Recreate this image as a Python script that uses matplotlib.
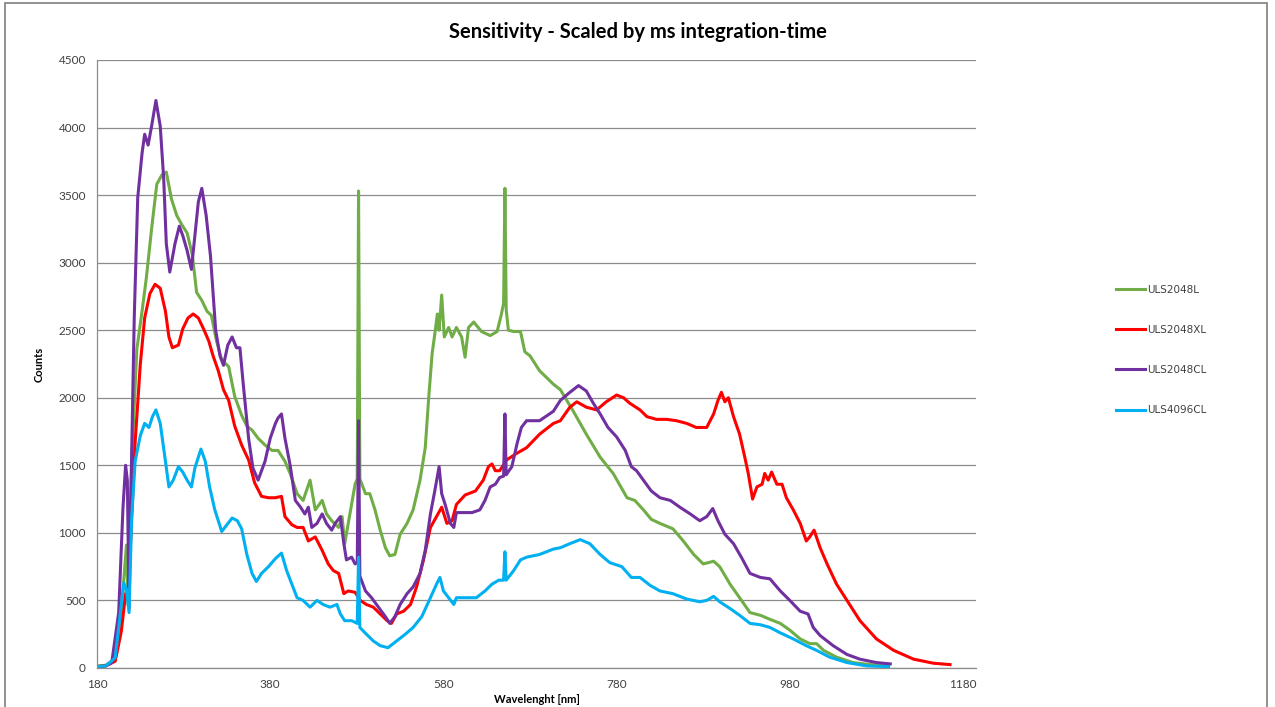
import matplotlib
matplotlib.use('Agg')
import matplotlib.pyplot as plt
from matplotlib.patches import Rectangle

# Sensitivity curves (wavelength nm, counts)
wl_2048L = [180, 190, 197, 203, 208, 212, 214, 216, 220, 226, 232, 237, 243, 249, 255, 260, 266, 272, 278, 284,
            290, 295, 301, 307, 312, 318, 324, 332, 339, 347, 353, 359, 366, 374, 382, 389, 397, 403, 411, 418,
            426, 432, 440, 445, 451, 459, 463, 466, 472, 478, 480.5, 482, 483.5, 490, 495, 501, 507, 513, 518, 524,
            530, 538, 545, 553, 559, 563, 567, 570, 573, 575, 578, 581, 586, 590, 595, 601, 605, 609, 615, 624,
            634, 642, 647, 649.5, 651, 652.5, 655, 661, 669, 674, 680, 691, 707, 715, 730, 745, 761, 776, 792, 801,
            811, 820, 830, 845, 857, 869, 880, 892, 899, 911, 922, 934, 946, 957, 969, 980, 992, 1003, 1011, 1019,
            1034, 1053, 1073, 1094]
counts_2048L = [15, 20, 50, 150, 400, 745, 910, 465, 1530, 2360, 2640, 2890, 3250, 3580, 3650, 3670, 3470, 3350, 3280, 3220,
                3060, 2780, 2720, 2640, 2610, 2420, 2280, 2230, 2010, 1870, 1790, 1760, 1700, 1650, 1610, 1610, 1530, 1440, 1290, 1240,
                1390, 1170, 1240, 1140, 1090, 1040, 1120, 920, 1140, 1360, 1400, 3530, 1400, 1290, 1290, 1170, 1020, 890, 830, 840,
                990, 1070, 1170, 1390, 1630, 2000, 2330, 2470, 2620, 2500, 2760, 2450, 2520, 2450, 2520, 2450, 2300, 2520, 2560, 2490,
                2460, 2490, 2620, 2700, 3550, 2650, 2500, 2490, 2490, 2340, 2310, 2200, 2100, 2060, 1900, 1730, 1560, 1440, 1260, 1240,
                1170, 1100, 1070, 1030, 940, 840, 770, 790, 750, 620, 520, 410, 390, 360, 330, 280, 215, 180, 180, 130,
                80, 40, 25, 15]

wl_2048XL = [180, 190, 201, 208, 213, 216, 220, 224, 230, 235, 241, 247, 253, 259, 263, 267, 274, 279, 285, 291,
             297, 303, 309, 314, 320, 326, 332, 339, 347, 355, 362, 370, 378, 386, 393, 397, 405, 411, 418, 424,
             432, 440, 447, 453, 459, 465, 470, 478, 484, 491, 499, 507, 515, 520, 526, 534, 542, 549, 557, 565,
             572, 578, 584, 590, 595, 605, 617, 626, 632, 636, 640, 645, 653, 665, 676, 691, 707, 715, 726, 734,
             745, 757, 768, 780, 788, 795, 807, 815, 826, 838, 849, 861, 872, 884, 892, 897, 901, 905, 909, 915,
             922, 928, 932, 937, 942, 948, 951, 955, 959, 965, 971, 976, 984, 992, 999, 1003, 1008, 1015, 1023, 1034,
             1046, 1061, 1080, 1100, 1123, 1146, 1165]
counts_2048XL = [10, 15, 50, 270, 550, 520, 1110, 1670, 2250, 2590, 2770, 2840, 2810, 2640, 2450, 2370, 2390, 2510, 2590, 2620,
                 2590, 2510, 2420, 2310, 2200, 2060, 1980, 1790, 1650, 1540, 1370, 1270, 1260, 1260, 1270, 1120, 1060, 1040, 1040, 940,
                 970, 870, 770, 720, 700, 550, 570, 560, 500, 470, 450, 400, 350, 330, 400, 420, 470, 600, 800, 1040,
                 1120, 1190, 1070, 1090, 1210, 1280, 1310, 1390, 1490, 1510, 1460, 1460, 1540, 1590, 1630, 1730, 1810, 1830, 1930, 1970,
                 1930, 1910, 1970, 2020, 2000, 1960, 1910, 1860, 1840, 1840, 1830, 1810, 1780, 1780, 1880, 1980, 2040, 1970, 2000, 1860,
                 1730, 1560, 1440, 1250, 1340, 1360, 1440, 1390, 1450, 1360, 1360, 1260, 1170, 1070, 940, 970, 1020, 890, 770, 620,
                 500, 350, 215, 130, 65, 35, 25]

wl_2048CL = [180, 190, 197, 205, 210, 213, 215, 217, 219, 223, 227, 232, 235, 239, 243, 248, 253, 257, 260, 264,
             270, 275, 279, 284, 289, 293, 297, 301, 306, 311, 317, 322, 326, 331, 336, 341, 345, 349, 355, 360,
             366, 374, 380, 386, 389, 393, 397, 403, 409, 415, 420, 424, 428, 434, 440, 445, 451, 455, 461, 465,
             468, 474, 478, 480.5, 482, 483.5, 490, 497, 505, 513, 518, 524, 530, 538, 545, 553, 559, 565, 570, 575,
             578, 582, 588, 592, 595, 603, 613, 622, 628, 634, 640, 645, 649.5, 651, 652.5, 659, 665, 670, 676, 691,
             707, 715, 726, 736, 745, 753, 761, 770, 780, 790, 797, 803, 811, 820, 830, 842, 853, 865, 876, 884,
             891, 897, 905, 915, 924, 934, 946, 957, 969, 980, 992, 1001, 1007, 1015, 1030, 1046, 1061, 1080, 1096]
counts_2048CL = [10, 15, 40, 410, 1190, 1500, 1390, 440, 1250, 2600, 3480, 3810, 3950, 3870, 4010, 4200, 4010, 3620, 3140, 2930,
                 3140, 3270, 3200, 3090, 2950, 3200, 3450, 3550, 3350, 3050, 2500, 2310, 2240, 2390, 2450, 2370, 2370, 2090, 1700, 1480,
                 1390, 1530, 1700, 1810, 1850, 1880, 1700, 1500, 1240, 1190, 1140, 1190, 1040, 1070, 1140, 1070, 1020, 1070, 1120, 920,
                 800, 820, 770, 780, 1830, 680, 570, 520, 450, 380, 330, 380, 470, 550, 600, 700, 870, 1140, 1310, 1490,
                 1290, 1210, 1070, 1040, 1150, 1150, 1150, 1170, 1240, 1340, 1360, 1410, 1420, 1880, 1430, 1490, 1660, 1780, 1830, 1830,
                 1900, 1980, 2040, 2090, 2050, 1960, 1880, 1780, 1710, 1610, 1490, 1460, 1390, 1310, 1260, 1240, 1190, 1140, 1090, 1120,
                 1180, 1090, 990, 920, 820, 700, 670, 660, 570, 500, 420, 400, 300, 240, 165, 100, 65, 40, 30]

wl_4096CL = [180, 190, 201, 208, 211, 214, 217, 220, 224, 230, 235, 240, 244, 248, 253, 259, 263, 268, 274, 279,
             284, 289, 293, 300, 305, 310, 316, 324, 330, 336, 342, 347, 353, 359, 364, 370, 378, 386, 393, 399,
             405, 411, 418, 426, 434, 441, 449, 457, 461, 466, 474, 480.5, 482, 483.5, 491, 499, 507, 516, 526, 536,
             545, 555, 565, 572, 576, 580, 586, 592, 595, 607, 618, 628, 636, 644, 649.5, 651, 652.5, 661, 669, 676,
             691, 707, 715, 726, 738, 749, 761, 772, 786, 797, 807, 819, 830, 845, 861, 876, 884, 892, 899, 911,
             922, 934, 946, 957, 969, 984, 999, 1011, 1026, 1046, 1069, 1094]
counts_4096CL = [10, 15, 75, 465, 630, 580, 410, 1110, 1530, 1720, 1810, 1780, 1860, 1910, 1810, 1530, 1340, 1390, 1490, 1450,
                 1390, 1340, 1480, 1620, 1530, 1340, 1170, 1010, 1060, 1110, 1090, 1030, 840, 700, 640, 700, 750, 810, 850, 720,
                 620, 520, 500, 450, 500, 470, 450, 470, 400, 350, 350, 330, 820, 300, 250, 200, 165, 150, 200, 250,
                 300, 380, 520, 620, 670, 570, 520, 470, 520, 520, 520, 570, 620, 650, 650, 860, 650, 720, 800, 820,
                 840, 880, 890, 920, 950, 920, 840, 780, 750, 670, 670, 610, 570, 550, 510, 490, 500, 530, 490, 440,
                 390, 330, 320, 300, 260, 215, 165, 130, 80, 40, 15, 10]

series_names = ['ULS2048L', 'ULS2048XL', 'ULS2048CL', 'ULS4096CL']
series_colors = ['#70AD47', '#FF0000', '#7030A0', '#00B0F0']
x_ticks = [180, 380, 580, 780, 980, 1180]
y_ticks = [0, 500, 1000, 1500, 2000, 2500, 3000, 3500, 4000, 4500]

plt.rcParams['font.family'] = ['Lato', 'DejaVu Sans']

fig = plt.figure(figsize=(12.75, 7.07), dpi=100)
ax = fig.add_axes([0.0761, 0.0552, 0.6894, 0.8600])

all_wl = [wl_2048L, wl_2048XL, wl_2048CL, wl_4096CL]
all_counts = [counts_2048L, counts_2048XL, counts_2048CL, counts_4096CL]
for wl, cnt, name, col in zip(all_wl, all_counts, series_names, series_colors):
    ax.plot(wl, cnt, color=col, lw=2.2, label=name, solid_joinstyle='round')

ax.set_xlim(180, 1195)
ax.set_ylim(0, 4500)
ax.set_xticks(x_ticks)
ax.set_yticks(y_ticks)
ax.tick_params(axis='both', length=0, labelsize=8.5, colors='#404040', pad=8)
ax.grid(axis='y', color='#8c8c8c', lw=0.9)
ax.set_axisbelow(True)
for s in ['top', 'right']:
    ax.spines[s].set_visible(False)
for s in ['left', 'bottom']:
    ax.spines[s].set_color('#8c8c8c')
    ax.spines[s].set_linewidth(0.9)

ax.set_xlabel('Wavelenght [nm]', fontsize=8, fontweight='bold', labelpad=3)
ax.set_ylabel('Counts', fontsize=8, fontweight='bold', labelpad=10)

fig.text(0.5, 0.955, 'Sensitivity - Scaled by ms integration-time', ha='center', va='center',
         fontsize=14.5, fontweight='bold')

leg = ax.legend(loc='center left', bbox_to_anchor=(0.868, 0.505), bbox_transform=fig.transFigure,
                frameon=False, handlelength=2.8, handletextpad=0.2, labelspacing=2.9,
                prop={'family': 'DejaVu Sans', 'size': 7.5})
for t in leg.get_texts():
    t.set_color('#404040')

# outer chart frame
fig.patches.append(Rectangle((5 / 1275, -0.02), 1262 / 1275, 1.02 - 3 / 707, transform=fig.transFigure,
                             fill=False, edgecolor='#7f7f7f', lw=1.2))

fig.savefig('out.png', dpi=100)
